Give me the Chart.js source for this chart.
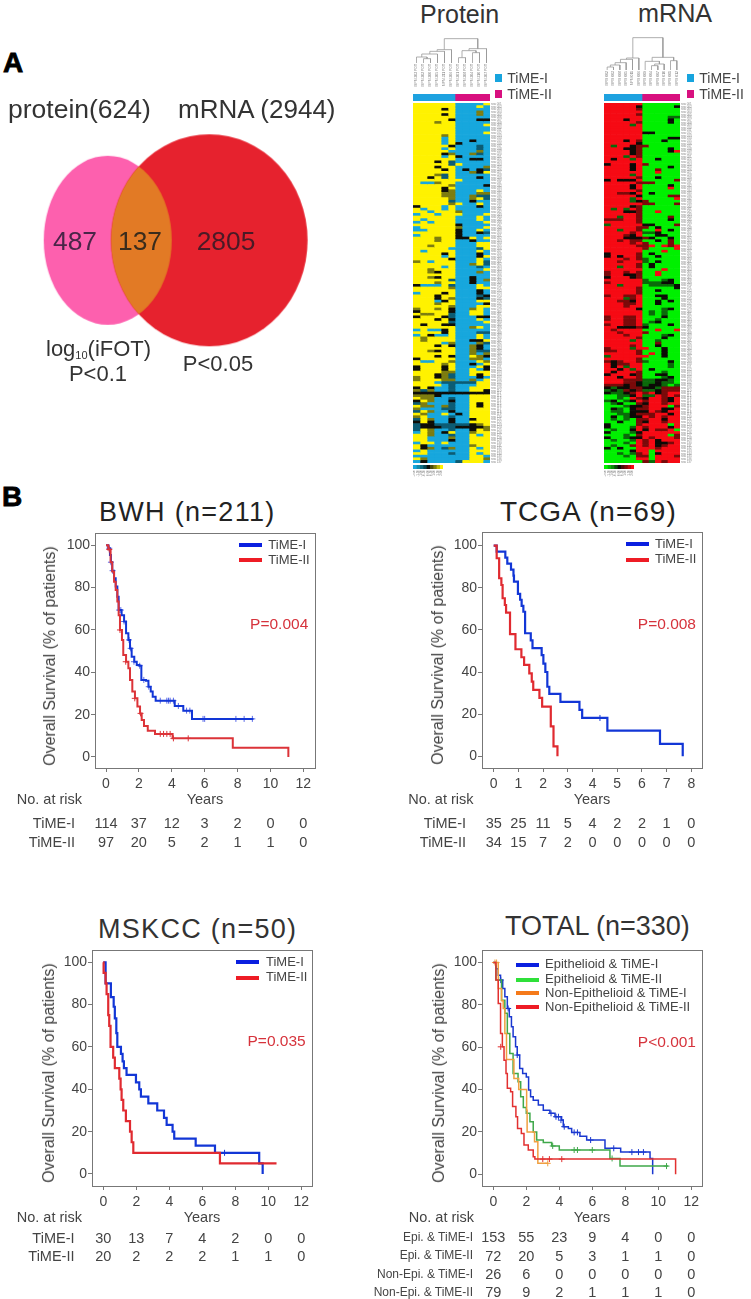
<!DOCTYPE html>
<html lang="en">
<head>
<meta charset="UTF-8">
<title>TiME subtypes: protein and mRNA signatures, overall survival</title>
<script src="https://cdn.jsdelivr.net/npm/chart.js"></script>
<style>
  html, body { margin: 0; padding: 0; background: #fff; }
  #page { position: relative; width: 751px; height: 1299px; overflow: hidden; font-family: "Liberation Sans", Arial, sans-serif; }
  #page canvas { position: absolute; }
  .t { position: absolute; white-space: nowrap; line-height: 1; color: #444; }
  .sw { position: absolute; }
</style>
</head>
<body>
<div id="page"></div>
<script>
// ---- Venn counts
const vennTotals = ['protein(624)', 'mRNA (2944)'];
const vennCounts = ['487', '137', '2805'];

// ---- heatmap samples
const proteinSamples = ['MPM 303 POT','MPM 302 POT','MPM 300 POT','MPM 305 POT','MPM 311 POT','MPM 306 POT','MPM 301 POT','MPM 308 POT','MPM 304 POT','MPM 310 POT','MPM 307 POT'];
const mrnaSamples = ['MPM 002','MPM 003','MPM 008','MPM 005','MPM 011','MPM 006','MPM 009','MPM 004','MPM 007','MPM 010','MPM 001','MPM 012'];
const proteinGroupCounts = [6, 5];
const mrnaGroupCounts = [6, 6];
const keyLabels = ['-2.00','-1.50','-1.00','-0.50','0.00','0.50','1.00','1.50','2.00'];

// dendrogram merges: [left x, left height, right x, right height, merge height]
const proteinMerges = [[1,0,2,0,13],[0,0,1.5,13,18],[0.75,18,3,0,27],[1.9,27,4,0,35],[2.95,35,5,0,40],[6,0,7,0,16],[8,0,9,0,31],[6.5,16,8.5,31,37],[7.5,37,10,0,43],[3.97,40,8.75,43,73]];
const mrnaMerges = [[0,0,1,0,9],[0.5,9,2,0,15],[1.25,15,3,0,22],[2.1,22,4,0,32],[3.05,32,5,0,36],[7,0,8,0,13],[7.5,13,9,0,18],[6,0,8.25,18,26],[10,0,11,0,28],[7.1,26,10.5,28,38],[4.05,36,8.8,38,97]];

// heatmap levels per row, one digit per sample. 0 low .. 2 mid .. 4 high
// the row names are too small to read in the reference, so rows carry plain ids
const proteinRows = ['44444400004','44444400040','44442400000','44444400030','44442400030','44444400000','44444200022','44434400000','44444400004','44444400000','44444400000','44444400004','44443400000','44440400000','44440400200','44440420000','44444200010','44440400010','44444000030','44442300310','44440420000','44444400220','44424100000','44444140000','44424400003','44442402021','44444400324','44431400000','44241400020','44444440000','40034400000','44444300002','44442400000','44442300040','44443300033','44443300311','44444300341','44444100200','44444340040','24440400020','40440400000','44044430000','04404440004','44444400040','40444400040','04044400004','44444420000','04444430004','00444420040','44444420021','04444420000','44434422404',
'44434400200','44444400044','44344400044','44444000014','40444400040','44442400020','44440400024','44444200040','34044400041','44444400341','44440400010','44344400004','44324400030','44444400000','44324400200','44444100203','44434400200','20004100040','44444300044','44444400020','04442400020','44424400012','44424300021','44402400044','44434400002','44444300044','34434200340','24444200440','43344100440','24442100022','44424200040','44444100004','42442200000','44444400340','04002400000','44442400011','04200400040','43444400040','43444400224','44440300031','44424200320','44444400320','44324400311','44444400303','44424200432','24444400330','40044300043','44443400204','24442400042','24442400402','44443300444','44423100424','34423100020','34443300304','44401111144','44440100044','24200100444','31300100442','22222222222','33320000444','43300100444','24300200444','13000100424','43303100424','30001100444','14300200444','43004020444','34000100444','14300200244','24200200444','12211111234','12221122223','14300100243','04302400344','44300100404','44000300444','44000200444','04404000444','42000000344','42301300404','04000000444','44000100404','00000000440','43000000443','02000014440'];

const mrnaRows = ['444444000000','444442000002','444443000000','444444000000','444443000000','444444000011','444244000020','444443000020','444414000000','444444000000','444444000000','444444220000','444444000000','444444000022','444243000200','444442000000','414423300000','444223000020','444423000024','444423000000','444143000000','424414002000','444444000000','244424300000','444424000020','444424003000','444444004000','444414000000','444443002000','242224000003','444443330000','444424000020','444424000040','444443000000','443324020000','444442000033','444414000004','444412300000','444444330003','444423000000','414143000000','444223004000','444443000000','441443000030','333443000020','444443000000','144444220003','444443302000','441443004020','444434112000','444324002200','444222320020',
'443433002030','444434300030','444443340434','444444300004','444444000400','244443020000','242443002000','444343100000','443444102000','444443020000','441443020000','444444000400','344343004000','344223004000','244423000000','444444100120','344444111220','441444011112','444443000002','444443002000','444443000000','344334002200','444134000200','443324002020','444334002000','444344000000','444442000120','444444010100','444444010100','344334000200','344334001000','444334012000','344334100020','442223200000','434444004004','443444300000','444344000120','444443000200','444414001000','444444003000','444434002000','344414400200','334443000200','444443040200','144444400200','444443000000','323443100020','423344000010','424144000010','442414020000','424443000100','244423002200','442443000120','444333112210','444332112110','333232122101','212233221333','121323112333','211234342344','001124114343','001043244324','120124344324','012003244344','000122344403','021023344224','011022243244','001123334424','020122434344','010103344244','002003244344','200003444404','200014344424','010024243340','200012444444','000103444403','200122434443','010014342444','000104342234','010034342344','202004443444','000024404444','001013402444','000103304443','000004404444','000000314344'];

// ---- survival curves: time of each drop (years) and survival after it (%)
const bwhITimes = [0,0.14,0.24,0.3,0.38,0.49,0.59,0.69,0.77,0.95,1.1,1.22,1.36,1.46,1.56,1.72,1.87,2.03,2.15,2.43,2.58,2.72,2.84,3.02,4.18,4.7,5.23,8.97];
const bwhISurv  = [100,98.6,95.4,92,88,84.4,80.5,75.7,69.4,67,64,58.4,55.3,51.3,47.4,45,43.5,43.1,36.4,36,33.2,30.9,28.5,26.6,24.1,21.9,18,18];
const bwhICensorT = [0.2,0.3,0.4,0.8,0.9,1.1,1.4,1.5,1.7,2.05,2.3,2.6,3.3,3.7,3.8,3.9,4.1,4.4,4.9,5.1,5.9,6,7.9,8.4,8.9];
const bwhICensorS = [98.6,92,88,69.4,69.4,64,55.3,51.3,45,43.1,36.4,33.2,26.6,26.6,26.6,26.6,26.6,24.1,21.9,21.9,18,18,18,18,18];
const bwhIITimes = [0,0.14,0.28,0.38,0.49,0.59,0.69,0.77,0.85,0.97,1.05,1.22,1.36,1.46,1.6,1.76,1.91,2.07,2.17,2.31,2.54,2.98,4.05,7.71,11.09,11.09];
const bwhIISurv  = [100,98,92,87.6,82.8,78.9,73.4,67,60,55.3,48.2,45,41.9,36.4,30.9,27.7,23.8,20.6,17.5,14.6,12.4,10.9,8.8,4.4,4.4,0];
const bwhIICensorT = [0.2,0.85,1.2,1.75,2.1,3.3,3.5,3.7,3.9,4.1,5];
const bwhIICensorS = [98,60,45,27.7,20.6,10.9,10.9,10.9,10.9,8.8,8.8];
const bwhRisk = [[114,37,12,3,2,0,0],[97,20,5,2,1,1,0]];

const tcgaITimes = [0,0.12,0.47,0.55,0.7,0.8,0.82,0.98,1.07,1.13,1.2,1.27,1.5,1.57,1.94,2.01,2.09,2.17,2.25,2.7,3.47,3.58,4.6,6.73,7.65];
const tcgaISurv  = [100,97.1,94.3,91.4,88.6,85.7,82.9,77.1,74.3,71.4,68.6,58.4,55,51.3,48,44,40,33,29.6,25.8,22,18.2,12.2,5.9,0];
const tcgaICensorT = [4.3];
const tcgaICensorS = [18.2];
const tcgaIITimes = [0,0.12,0.22,0.31,0.36,0.45,0.5,0.66,0.88,1.12,1.23,1.44,1.54,1.6,1.85,1.96,2.31,2.42,2.58];
const tcgaIISurv  = [100,94,84.5,81.3,75,71.8,68.2,58,50.8,47,43.4,39.4,35.4,31.5,27.7,23.6,14.2,4.7,0];
const tcgaRisk = [[35,25,11,5,4,2,2,1,0],[34,15,7,2,0,0,0,0,0]];

const mskccITimes = [0,0.06,0.14,0.46,0.63,0.7,0.79,0.85,1.07,1.17,1.25,1.41,1.5,1.98,2.18,2.28,2.73,3.27,3.68,3.84,4.2,4.3,5.6,6.77,9.45,9.66];
const mskccISurv  = [100,100,90,83.5,79,73.5,66.5,60,56.7,53.2,50,46.8,46.8,43.3,40,36.5,33.4,30,26.5,23.2,20,16.7,13.4,10,5,0];
const mskccICensorT = [7.35];
const mskccICensorS = [10];
const mskccIITimes = [0,0.02,0.14,0.2,0.3,0.36,0.44,0.6,0.7,0.97,1.05,1.11,1.21,1.37,1.62,1.72,1.82,7.07,10.5];
const mskccIISurv  = [100,95,90,85,75,70,60,55,50,45,40,35,30,25,20,15,10,5,5];
const mskccRisk = [[30,13,7,4,2,0,0],[20,2,2,2,1,1,0]];

const totalEpiITimes = [0,0.16,0.3,0.44,0.57,0.7,0.85,0.97,1.1,1.2,1.35,1.45,1.6,1.78,2,2.14,2.26,2.42,2.73,3.03,3.43,3.74,4.14,4.24,4.55,4.75,5.25,5.66,6.77,7.72,9.5,9.66,9.66];
const totalEpiISurv  = [100,97,94,91.7,87.7,83.8,78.3,74.4,69.7,65,60.2,56.3,50,47.6,46,39.8,36.6,35,32.7,30.3,28.8,27.2,25.6,22.5,21.7,19.8,18,16.2,12.3,10.5,7.5,5,0];
const totalEpiICensorT = [0.45,0.9,1.45,3.5,3.8,3.95,4.1,4.3,4.9,5.1,5.9,7.3,8.4,8.8,9.1];
const totalEpiICensorS = [91.7,78.3,56.3,28.8,27.2,27.2,25.6,22.5,19.8,19.8,16.2,12.3,10.5,10.5,10.5];
const totalEpiIITimes = [0,0.16,0.5,0.7,0.85,1,1.2,1.5,1.66,1.82,2,2.22,2.42,2.63,3.03,3.54,4,7.07,7.68,10.6];
const totalEpiIISurv  = [100,91.7,82.2,76,66.5,57,47.6,43.7,36.6,31.6,28.8,24.8,20,16.2,15,13.4,11.5,7.5,3.9,3.9];
const totalEpiIICensorT = [3.6,4.9,5.1,6,7.2,10.5];
const totalEpiIICensorS = [13.4,11.5,11.5,11.5,7.5,3.9];
const totalNonITimes = [0,0.3,0.5,0.6,0.7,0.8,1.25,1.54,2.02,2.05,2.5,2.6,2.7,3.33];
const totalNonISurv  = [100,87.7,82,78.3,66.5,54.2,45.3,40,30.3,20,15.4,15.4,5.2,5.2];
const totalNonICensorT = [0.1,0.2,3.3];
const totalNonICensorS = [100,100,5.2];
const totalNonIITimes = [0,0.16,0.3,0.44,0.55,0.65,0.77,0.85,1.05,1.17,1.37,1.47,1.7,1.86,2.12,2.42,2.52,11.05,11.05];
const totalNonIISurv  = [100,91.7,80.7,66.5,60.2,53.9,47.6,40.6,39,32,27.2,21.7,19.3,13.8,11.5,8.3,7.2,7.2,0];
const totalNonIICensorT = [0.45,3,3.4,4.15];
const totalNonIICensorS = [60.2,7.2,7.2,7.2];
const totalRisk = [[153,55,23,9,4,0,0],[72,20,5,3,1,1,0],[26,6,0,0,0,0,0],[79,9,2,1,1,1,0]];

const yearTicks12 = [0,2,4,6,8,10,12];
const yearTicks8 = [0,1,2,3,4,5,6,7,8];
const survTicks = [0,20,40,60,80,100];

// ---- helpers
const FONT = '"Liberation Sans", Arial, sans-serif';
Chart.defaults.font.family = FONT;
Chart.defaults.animation = false;
Chart.defaults.layout.autoPadding = false;
Chart.defaults.plugins.legend.display = false;
Chart.defaults.plugins.tooltip.enabled = false;

const page = document.getElementById('page');

function addCanvas(l, t, w, h) {
  const c = document.createElement('canvas');
  c.width = w; c.height = h;
  c.style.left = l + 'px'; c.style.top = t + 'px';
  c.style.width = w + 'px'; c.style.height = h + 'px';
  page.appendChild(c);
  return c;
}

// x is the anchor, y the baseline
function text(str, x, y, size, align, extra) {
  const d = document.createElement('div');
  d.className = 't';
  d.textContent = str;
  d.style.left = x + 'px';
  d.style.top = (y - 0.8465 * size) + 'px';
  d.style.fontSize = size + 'px';
  if (align === 'center') d.style.transform = 'translateX(-50%)';
  if (align === 'right') d.style.transform = 'translateX(-100%)';
  Object.assign(d.style, extra || {});
  page.appendChild(d);
  return d;
}

function swatch(l, t, w, h, color) {
  const d = document.createElement('div');
  d.className = 'sw';
  Object.assign(d.style, { left: l + 'px', top: t + 'px', width: w + 'px', height: h + 'px', background: color });
  page.appendChild(d);
}

const framePlugin = {
  id: 'frame',
  afterDraw(chart) {
    const a = chart.chartArea, c = chart.ctx;
    c.save();
    c.strokeStyle = '#777';
    c.lineWidth = 1;
    c.strokeRect(a.left + 0.5, a.top + 0.5, a.right - a.left, a.bottom - a.top);
    c.restore();
  }
};

function pts(xs, ys) { return xs.map((x, i) => ({ x: x, y: ys[i] })); }

// pin an axis box to a fixed size, tick labels must not push the plot area in
function fixBox(sc, size) {
  if (sc.isHorizontal()) sc.height = size; else sc.width = size;
  sc.paddingTop = sc.paddingBottom = sc.paddingLeft = sc.paddingRight = 0;
}

// one survival panel
function kmPanel(p) {
  const padL = 40, padT = 2, padR = 2, padB = 30;
  const w = p.r - p.l, h = p.b - p.t;
  const cl = p.l - padL;
  const canvas = addCanvas(cl, p.t - padT, w + padL + padR, h + padT + padB);
  const datasets = [];
  p.series.forEach(s => {
    datasets.push({ data: pts(s.t, s.s), showLine: true, stepped: true, borderColor: s.color, borderWidth: p.lineWidth, pointRadius: 0, fill: false });
    if (s.ct) datasets.push({ data: pts(s.ct, s.cs), showLine: false, pointStyle: 'cross', pointRadius: 3, pointBorderWidth: 1, pointBorderColor: s.mark || s.color, backgroundColor: 'transparent' });
  });
  const chart = new Chart(canvas, {
    type: 'scatter',
    data: { datasets: datasets },
    options: {
      responsive: false,
      layout: { padding: { top: padT, right: padR, left: 0, bottom: 0 } },
      scales: {
        x: {
          type: 'linear', min: p.xMin, max: p.xMax,
          afterBuildTicks: sc => { sc.ticks = p.xTicks.map(v => ({ value: v })); },
          afterFit: sc => fixBox(sc, padB),
          ticks: { color: '#444', font: { size: 14 }, maxRotation: 0, autoSkip: false, padding: 4 },
          grid: { drawOnChartArea: false, tickLength: 4, color: '#777' },
          border: { display: false }
        },
        y: {
          type: 'linear', min: p.yMin, max: p.yMax,
          afterBuildTicks: sc => { sc.ticks = survTicks.map(v => ({ value: v })); },
          afterFit: sc => fixBox(sc, padL),
          ticks: { color: '#444', font: { size: 14 }, autoSkip: false, padding: 1 },
          grid: { drawOnChartArea: false, tickLength: 4, color: '#777' },
          border: { display: false }
        }
      }
    },
    plugins: [framePlugin]
  });

  text(p.title, p.titleX, p.titleY, p.titleSize || 27, 'left', { letterSpacing: p.titleSpacing + 'px', color: p.titleColor || '#333' });
  const yt = text('Overall Survival (% of patients)', p.yTitleX, p.yTitleY, 16, 'left');
  yt.style.top = p.yTitleY + 'px';
  yt.style.transform = 'translate(-50%,-50%) rotate(-90deg)';
  text('Years', (p.l + p.r) / 2, p.b + 36, 14.5, 'center');
  text(p.pText, p.pX, p.pY, 15.5, 'right', { color: '#d6333c' });
  p.legend.forEach((it, i) => {
    swatch(p.legX, it.y - 2, p.legW, 4, it.color);
    text(it.label, p.legTextX, it.y + 3.7, 13, 'left');
  });
  text('No. at risk', p.riskHeadX, p.b + 36, 14.5, 'right');
  p.risk.forEach((row, i) => {
    text(p.riskLabels[i], p.riskLabelX, p.riskLabelY[i], p.riskLabelSize, 'right');
    row.forEach((v, j) => {
      text(String(v), cl + chart.scales.x.getPixelForValue(p.xTicks[j]), p.riskY[i], 14.5, 'center');
    });
  });
}

// dendrogram with the sample names as rotated tick labels
function dendro(l, t, w, h, axisH, merges, samples, maxH) {
  const seg = [];
  merges.forEach(m => {
    seg.push({ x: m[0], y: m[1] }, { x: m[0], y: m[4] }, { x: m[2], y: m[4] }, { x: m[2], y: m[3] }, { x: null, y: null });
  });
  new Chart(addCanvas(l, t, w, h), {
    type: 'scatter',
    data: { datasets: [{ data: seg, showLine: true, spanGaps: false, pointRadius: 0, borderColor: '#9a9a9a', borderWidth: 0.8 }] },
    options: {
      responsive: false,
      scales: {
        x: {
          type: 'linear', min: -0.5, max: samples.length - 0.5,
          afterBuildTicks: sc => { sc.ticks = samples.map((s, i) => ({ value: i })); },
          afterFit: sc => fixBox(sc, axisH),
          ticks: { autoSkip: false, minRotation: 90, maxRotation: 90, padding: 1, color: '#777', font: { size: 3.4 }, callback: v => samples[v] },
          grid: { display: false, drawTicks: false }, border: { display: false }
        },
        y: { display: false, min: 0, max: maxH }
      }
    }
  });
}

// horizontal stacked bars, used for the heatmap rows, group strip and colour key
function stackedRows(l, t, w, h, labels, datasets, xMax, opts) {
  opts = opts || {};
  const canvas = addCanvas(l, t, w, h);
  new Chart(canvas, {
    type: 'bar',
    data: { labels: labels, datasets: datasets },
    options: {
      responsive: false,
      indexAxis: 'y',
      layout: { padding: { top: opts.padTop || 0 } },
      datasets: { bar: { barPercentage: 1, categoryPercentage: 1, borderWidth: 0 } },
      scales: {
        x: Object.assign({ stacked: true, min: 0, max: xMax, display: false }, opts.x || {}),
        y: Object.assign({ stacked: true, display: false }, opts.y || {})
      }
    }
  });
  return canvas;
}

function heatmap(l, t, plotW, labelW, h, rows, colors, padTop) {
  const ids = rows.map((r, i) => 'row ' + String(i + 1).padStart(3, '0'));
  const n = rows[0].length;
  const sets = [];
  for (let c = 0; c < n; c++) {
    sets.push({ data: rows.map(() => 1), backgroundColor: rows.map(r => colors[r[c]] || colors[2]) });
  }
  const canvas = stackedRows(l, t, plotW + labelW, h, ids, sets, n, {
    padTop: padTop,
    y: {
      display: true, position: 'right',
      afterFit: sc => fixBox(sc, labelW),
      ticks: { autoSkip: false, padding: 1, color: '#8a8a8a', font: { size: 3 } },
      grid: { display: false, drawTicks: false }, border: { display: false }
    }
  });
  // the reference is a soft low resolution scan
  canvas.style.filter = 'blur(0.45px)';
}

function colorKey(l, t, w, h, colors) {
  const sets = colors.map(c => ({ data: [1], backgroundColor: c }));
  stackedRows(l, t, w, h, ['key'], sets, keyLabels.length, {
    x: {
      display: true, position: 'bottom',
      afterBuildTicks: sc => { sc.ticks = keyLabels.map((s, i) => ({ value: i + 0.5 })); },
      afterFit: sc => fixBox(sc, 9),
      ticks: { autoSkip: false, minRotation: 90, maxRotation: 90, padding: 1, color: '#777', font: { size: 3 }, callback: (v, i) => keyLabels[i] },
      grid: { display: false, drawTicks: false }, border: { display: false }
    }
  });
}

function groupStrip(l, t, w, h, counts) {
  const total = counts[0] + counts[1];
  stackedRows(l, t, w, h, ['group'], [
    { data: [counts[0]], backgroundColor: '#1ea2e0' },
    { data: [counts[1]], backgroundColor: '#d8107f' }
  ], total);
}

// ---- panel letters
text('A', 3, 73, 28, 'left', { fontWeight: 'bold', color: '#000', WebkitTextStroke: '0.8px #000' });
text('B', 2, 507, 28, 'left', { fontWeight: 'bold', color: '#000', WebkitTextStroke: '0.8px #000' });

// ---- Venn, drawn as image points placed through hidden scales
const VENN = { pink: { cx: 107.7, cy: 240.3, rx: 64, ry: 84.5 }, red: { cx: 209.3, cy: 240.3, rx: 98.3, ry: 106 } };

function ellipseSprite(e, color, clipTo) {
  const c = document.createElement('canvas');
  c.width = Math.ceil(e.rx * 2) + 2; c.height = Math.ceil(e.ry * 2) + 2;
  const g = c.getContext('2d');
  g.translate(c.width / 2, c.height / 2);
  if (clipTo) {
    g.beginPath();
    g.ellipse(clipTo.cx - e.cx, clipTo.cy - e.cy, clipTo.rx, clipTo.ry, 0, 0, Math.PI * 2);
    g.clip();
  }
  g.beginPath();
  g.ellipse(0, 0, e.rx, e.ry, 0, 0, Math.PI * 2);
  g.fillStyle = color;
  g.fill();
  return c;
}

new Chart(addCanvas(0, 0, 370, 400), {
  type: 'scatter',
  data: {
    datasets: [
      { data: [{ x: VENN.pink.cx, y: VENN.pink.cy }], pointStyle: ellipseSprite(VENN.pink, '#e27a25', VENN.red), pointRadius: 10, clip: false },
      { data: [{ x: VENN.red.cx, y: VENN.red.cy }], pointStyle: ellipseSprite(VENN.red, '#e6222e'), pointRadius: 10, clip: false },
      { data: [{ x: VENN.pink.cx, y: VENN.pink.cy }], pointStyle: ellipseSprite(VENN.pink, '#fd60ae'), pointRadius: 10, clip: false }
    ]
  },
  options: {
    responsive: false,
    scales: {
      x: { display: false, min: 0, max: 370 },
      y: { display: false, min: 0, max: 400, reverse: true }
    }
  }
});

text(vennTotals[0], 8, 118, 26.5, 'left', { color: '#333' });
text(vennTotals[1], 178, 118, 26, 'left', { color: '#333' });
text(vennCounts[0], 75, 250, 26.4, 'center', { color: '#4a2548' });
text(vennCounts[1], 140, 250, 26.4, 'center', { color: '#3a2c1c' });
text(vennCounts[2], 226, 250, 26.4, 'center', { color: '#4a1a26' });
const logLabel = text('log', 46, 357, 22, 'left', { color: '#333' });
logLabel.innerHTML = 'log<span style="font-size:11px;position:relative;top:3px">10</span>(iFOT)';
text('P<0.1', 98, 381.7, 22, 'center', { color: '#333' });
text('P<0.05', 218, 371.7, 22, 'center', { color: '#333' });

// ---- heatmaps
const proteinColors = ['#17a7dd', '#0c5c74', '#0e0e08', '#7d7d10', '#fff200'];
const mrnaColors = ['#00f000', '#0a6a0a', '#0c0a06', '#7a0a0a', '#f60a14'];

text('Protein', 420, 22.7, 25, 'left', { color: '#333' });
text('mRNA', 638, 22.7, 25.2, 'left', { color: '#333' });

dendro(413, 35, 77, 59, 31, proteinMerges, proteinSamples, 84);
dendro(604, 35, 76, 59, 24, mrnaMerges, mrnaSamples, 105);
groupStrip(413, 94, 77, 7, proteinGroupCounts);
groupStrip(604, 94, 76, 7, mrnaGroupCounts);
heatmap(413, 102, 77, 14, 361, proteinRows, proteinColors, 1);
heatmap(604, 102, 76, 14, 361, mrnaRows, mrnaColors, 1);
colorKey(413, 465, 30, 13, ['#17a7dd','#148aa8','#0f6e84','#0b4654','#0e0e08','#4a4a0c','#7d7d10','#bcb808','#fff200']);
colorKey(604, 465, 30, 13, ['#00f000','#06b806','#0a8a0a','#0a4c0a','#0c0a06','#4c0a08','#7a0a0a','#b80a0e','#f60a14']);

[[495, 507.3], [686.7, 699.3]].forEach(pos => {
  swatch(pos[0], 74, 7, 8, '#17a4de');
  swatch(pos[0], 90, 7, 8, '#d8107f');
  text('TiME-I', pos[1], 83.3, 14, 'left');
  text('TiME-II', pos[1], 98.7, 14, 'left');
});

// ---- survival panels
const BLUE = '#1236d6', RED = '#dc3338';

kmPanel({
  l: 95, r: 315, t: 533, b: 768, xMin: -0.669, xMax: 12.71, yMin: -5.2, yMax: 105.8, xTicks: yearTicks12, lineWidth: 2,
  title: 'BWH (n=211)', titleX: 99, titleY: 521.7, titleSpacing: 1.3, titleColor: '#222',
  yTitleX: 50, yTitleY: 655.7, pText: 'P=0.004', pX: 308.3, pY: 629.3,
  legX: 239.3, legW: 23, legTextX: 268.3,
  legend: [{ y: 545, color: '#0a1fe0', label: 'TiME-I' }, { y: 560.3, color: '#ee1c25', label: 'TiME-II' }],
  series: [
    { t: bwhIITimes, s: bwhIISurv, ct: bwhIICensorT, cs: bwhIICensorS, color: RED },
    { t: bwhITimes, s: bwhISurv, ct: bwhICensorT, cs: bwhICensorS, color: BLUE, mark: '#5a6ae8' }
  ],
  riskHeadX: 82, riskLabels: ['TiME-I', 'TiME-II'], riskLabelX: 75, riskLabelY: [828, 847], riskLabelSize: 14.5, riskY: [828, 847], risk: bwhRisk
});

kmPanel({
  l: 482, r: 702, t: 532, b: 768, xMin: -0.474, xMax: 8.43, yMin: -5.55, yMax: 106.45, xTicks: yearTicks8, lineWidth: 2.2,
  title: 'TCGA (n=69)', titleX: 500, titleY: 521.7, titleSpacing: 1, titleSize: 28, titleColor: '#222',
  yTitleX: 438.3, yTitleY: 655, pText: 'P=0.008', pX: 696, pY: 629.3,
  legX: 625.7, legW: 23, legTextX: 655,
  legend: [{ y: 544, color: '#0a1fe0', label: 'TiME-I' }, { y: 559.7, color: '#ee1c25', label: 'TiME-II' }],
  series: [
    { t: tcgaIITimes, s: tcgaIISurv, color: '#e02a30' },
    { t: tcgaITimes, s: tcgaISurv, ct: tcgaICensorT, cs: tcgaICensorS, color: BLUE }
  ],
  riskHeadX: 473.5, riskLabels: ['TiME-I', 'TiME-II'], riskLabelX: 466, riskLabelY: [828, 847], riskLabelSize: 14.5, riskY: [828, 847], risk: tcgaRisk
});

kmPanel({
  l: 92, r: 312, t: 950, b: 1186, xMin: -0.684, xMax: 12.65, yMin: -5.67, yMax: 105.8, xTicks: yearTicks12, lineWidth: 2.2,
  title: 'MSKCC (n=50)', titleX: 98, titleY: 939, titleSpacing: 1.3,
  yTitleX: 49, yTitleY: 1073.3, pText: 'P=0.035', pX: 305.7, pY: 1046,
  legX: 236, legW: 23, legTextX: 266,
  legend: [{ y: 962, color: '#0a1fe0', label: 'TiME-I' }, { y: 977.7, color: '#ee1c25', label: 'TiME-II' }],
  series: [
    { t: mskccIITimes, s: mskccIISurv, color: '#e02a30' },
    { t: mskccITimes, s: mskccISurv, ct: mskccICensorT, cs: mskccICensorS, color: BLUE }
  ],
  riskHeadX: 82, riskLabels: ['TiME-I', 'TiME-II'], riskLabelX: 74.5, riskLabelY: [1243, 1261.5], riskLabelSize: 14.5, riskY: [1243, 1261.5], risk: mskccRisk
});

kmPanel({
  l: 482, r: 702, t: 950, b: 1186, xMin: -0.685, xMax: 12.65, yMin: -5.5, yMax: 105.9, xTicks: yearTicks12, lineWidth: 1.5,
  title: 'TOTAL (n=330)', titleX: 505, titleY: 936, titleSpacing: 0,
  yTitleX: 439, yTitleY: 1072.8, pText: 'P<0.001', pX: 696, pY: 1046.7,
  legX: 516, legW: 23, legTextX: 545,
  legend: [
    { y: 964.7, color: '#0a1fe0', label: 'Epithelioid & TiME-I' },
    { y: 979.7, color: '#2fe03a', label: 'Epithelioid & TiME-II' },
    { y: 993, color: '#f57a1a', label: 'Non-Epithelioid & TiME-I' },
    { y: 1007, color: '#ee1c25', label: 'Non-Epithelioid & TiME-II' }
  ],
  series: [
    { t: totalNonIITimes, s: totalNonIISurv, ct: totalNonIICensorT, cs: totalNonIICensorS, color: '#e23030' },
    { t: totalNonITimes, s: totalNonISurv, ct: totalNonICensorT, cs: totalNonICensorS, color: '#f0a040' },
    { t: totalEpiIITimes, s: totalEpiIISurv, ct: totalEpiIICensorT, cs: totalEpiIICensorS, color: '#3fa84a' },
    { t: totalEpiITimes, s: totalEpiISurv, ct: totalEpiICensorT, cs: totalEpiICensorS, color: '#1a38d0' }
  ],
  riskHeadX: 474, riskLabels: ['Epi. & TiME-I', 'Epi. & TiME-II', 'Non-Epi. & TiME-I', 'Non-Epi. & TiME-II'], riskLabelX: 473,
  riskLabelY: [1240.7, 1259.3, 1277.7, 1295.7], riskLabelSize: 12, riskY: [1242.7, 1261.7, 1279.3, 1297.3], risk: totalRisk
});
</script>
</body>
</html>
